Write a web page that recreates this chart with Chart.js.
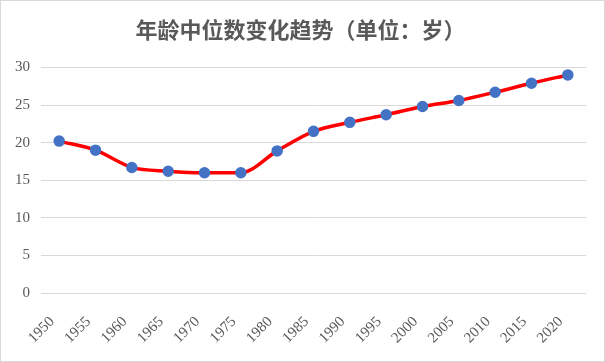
<!DOCTYPE html>
<html lang="zh">
<head>
  <meta charset="UTF-8" />
  <title>年龄中位数变化趋势</title>
  <script src="https://cdn.jsdelivr.net/npm/chart.js"></script>
  <style>
    body { margin: 0; background: #fff; }
    .box {
      width: 605px; height: 362px;
      box-sizing: border-box;
      border: 1px solid #d9d9d9;
      background: #fff;
    }
  </style>
</head>
<body>
<div class="box">
  <canvas id="chart" width="603" height="360"></canvas>
</div>
<script>
  const years = ['1950','1955','1960','1965','1970','1975','1980','1985','1990','1995','2000','2005','2010','2015','2020'];
  const medianAge = [20.2, 19.0, 16.7, 16.2, 16.0, 16.0, 18.9, 21.5, 22.7, 23.7, 24.8, 25.6, 26.7, 27.9, 29.0];
  const yTicks = [0, 5, 10, 15, 20, 25, 30];

  const ctx = document.getElementById('chart').getContext('2d');
  new Chart(ctx, {
    type: 'line',
    data: {
      labels: years,
      datasets: [{
        label: '年龄中位数',
        data: medianAge,
        borderColor: '#ff0000',
        borderWidth: 3.5,
        tension: 0.4,
        cubicInterpolationMode: 'monotone',
        pointBackgroundColor: '#4472c4',
        pointBorderColor: '#4472c4',
        pointRadius: 4,
        fill: false
      }]
    },
    options: {
      responsive: false,
      animation: false,
      layout: { padding: { top: 11, right: 18, bottom: 2, left: 14 } },
      plugins: {
        legend: { display: false },
        tooltip: { enabled: false },
        title: {
          display: true,
          text: '年龄中位数变化趋势（单位：岁）',
          color: '#595959',
          font: { family: '"Noto Sans CJK SC"', size: 22, weight: 'bold' },
          padding: { top: 4, bottom: 25 }
        }
      },
      scales: {
        x: {
          offset: true,
          grid: { display: false },
          border: { display: false },
          afterFit: s => { s.paddingLeft = 0; s.paddingRight = 0; },
          ticks: {
            color: '#595959',
            font: { family: '"Liberation Serif"', size: 15 },
            minRotation: 45,
            maxRotation: 45,
            autoSkip: false,
            labelOffset: -7,
            padding: 12
          }
        },
        y: {
          min: 0,
          max: 30,
          afterBuildTicks: axis => { axis.ticks = yTicks.map(v => ({ value: v })); },
          afterFit: s => { s.width = 26; },
          grid: { color: '#d9d9d9', lineWidth: 1, drawTicks: false },
          border: { display: false },
          ticks: {
            color: '#595959',
            font: { family: '"Liberation Serif"', size: 15 },
            padding: 11
          }
        }
      }
    }
  });
</script>
</body>
</html>
